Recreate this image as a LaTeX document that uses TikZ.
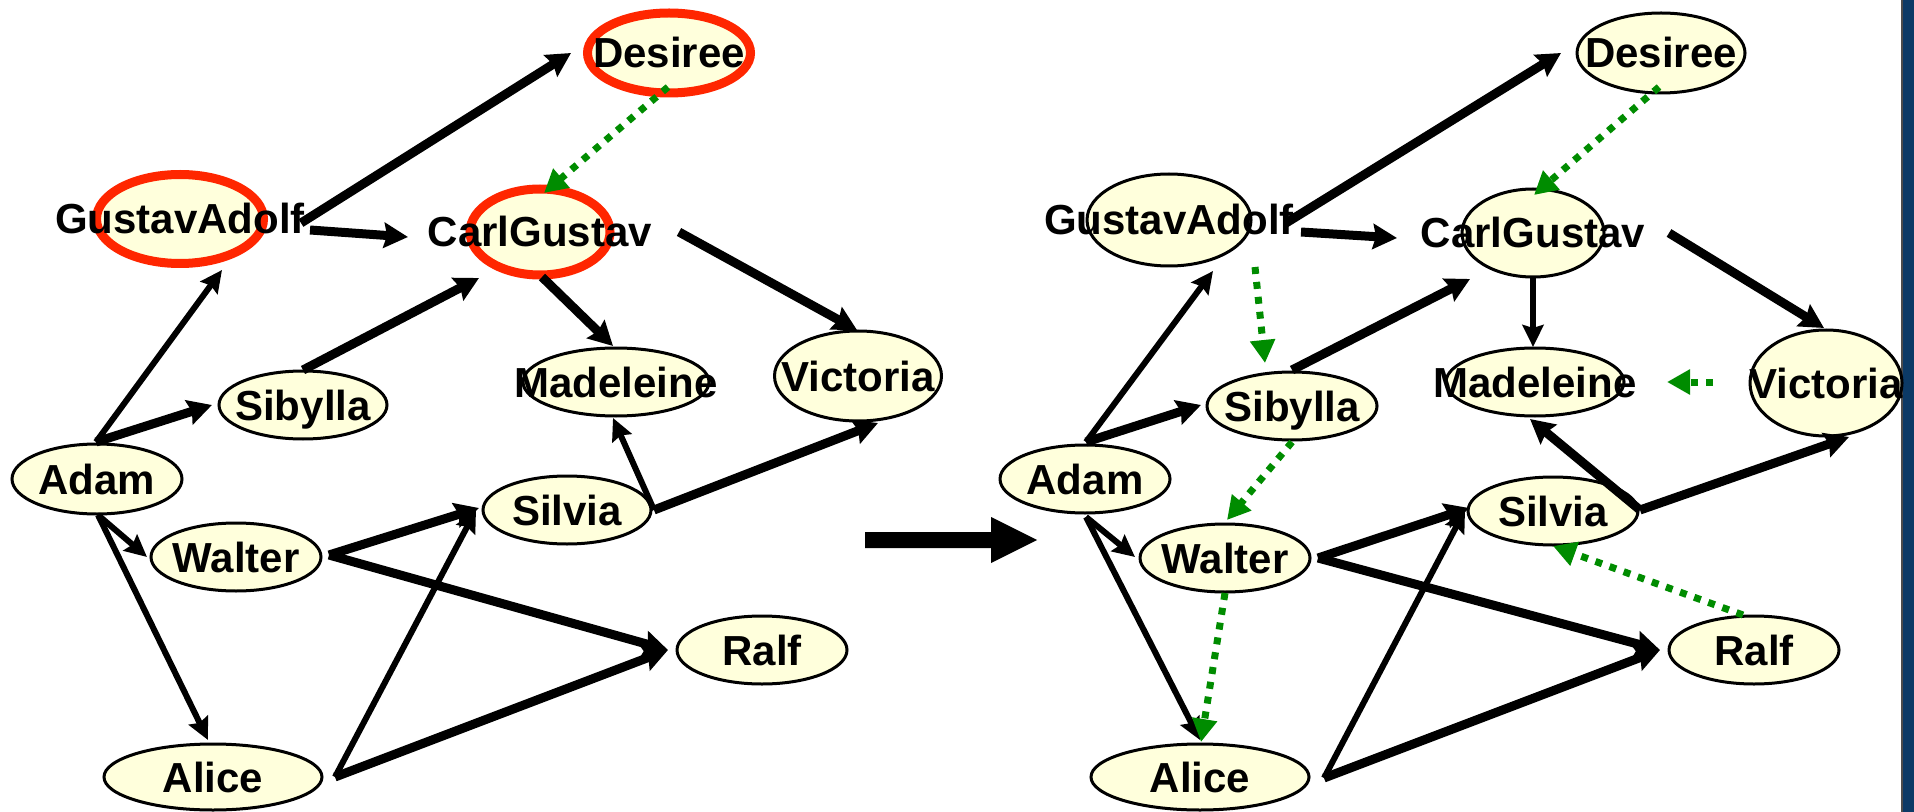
\documentclass[tikz,border=0pt]{standalone}
\usepackage{fontspec}
\setmainfont{Liberation Sans}
\usetikzlibrary{arrows.meta,shapes.geometric,calc}
\definecolor{nodefill}{RGB}{255,255,220}
\definecolor{hired}{RGB}{255,38,0}
\definecolor{dotgreen}{RGB}{0,140,0}
\definecolor{barblue}{RGB}{12,58,102}
\begin{document}
\begin{tikzpicture}[x=0.5pt,y=-0.5pt,
  nd/.style={ellipse, draw=black, line width=1.5pt, fill=nodefill, inner sep=0pt,
    text height=15pt, text depth=0pt, font=\fontsize{21pt}{25pt}\selectfont\bfseries},
  hl/.style={draw=hired, line width=4.5pt},
  sz/.style 2 args={minimum width=#1, minimum height=#2},
  edge/.style={line width=4.5pt, -{Stealth[length=12pt,width=12.5pt,inset=1.5pt]}},
  edgethin/.style={line width=3pt, -{Stealth[length=11pt,width=10.5pt,inset=1.5pt]}},
  gdot/.style={dotgreen, line width=3.5pt, dash pattern=on 3.5pt off 4pt,
    -{Triangle[length=11.5pt,width=12pt]}},
]
\useasboundingbox (0,0) rectangle (1914,812);
\fill[white] (0,0) rectangle (1914,812);
\fill[barblue] (1902,0) rectangle (1914,812);
\draw[gray!60!black, line width=0.6pt] (1902,0) -- (1902,812);

% ---------- left graph ----------
\node[nd, hl, sz={81.5pt}{40pt}] (des) at (669,53) {\makebox[0pt]{Desiree}};
\node[nd, hl, sz={83.5pt}{44.5pt}] (ga) at (180,219) {\makebox[0pt]{GustavAdolf}};
\node[nd, hl, sz={70pt}{43pt}] (cg) at (540,232) {\makebox[0pt]{CarlGustav}};
\node[nd, sz={93pt}{34pt}] (mad) at (616,382) {\makebox[0pt]{Madeleine}};
\node[nd, sz={83.5pt}{45pt}] (vic) at (858,376) {\makebox[0pt]{Victoria}};
\node[nd, sz={84pt}{34pt}] (sib) at (303,405) {\makebox[0pt]{Sibylla}};
\node[nd, sz={85pt}{35pt}] (adam) at (97,479) {\makebox[0pt]{Adam}};
\node[nd, sz={85pt}{34pt}] (wal) at (236,557) {\makebox[0pt]{Walter}};
\node[nd, sz={84pt}{34pt}] (sil) at (567,510) {\makebox[0pt]{Silvia}};
\node[nd, sz={85pt}{34pt}] (ralf) at (762,650) {\makebox[0pt]{Ralf}};
\node[nd, sz={109pt}{33pt}] (alice) at (213,777) {\makebox[0pt]{Alice}};

\draw[edge] ($(ga)+(121,4)$) -- ($(des)+(-98,0)$);
\draw[edge] ($(ga)+(130,11)$) -- ($(cg)+(-132,5)$);
\draw[edge] ($(cg)+(139,0)$) -- ($(vic)+(-1,-46)$);
\draw[edge] ($(cg)+(2,45)$) -- ($(mad)+(-3,-36)$);
\draw[edge] ($(sib)+(0,-35)$) -- ($(cg)+(-61,46)$);
\draw[edgethin] ($(adam)+(-1,-37)$) -- ($(ga)+(42,51)$);
\draw[edge] ($(adam)+(-1,-37)$) -- ($(sib)+(-91,0)$);
\draw[edgethin] ($(adam)+(1,36)$) -- ($(wal)+(-89,0)$);
\draw[edgethin] ($(adam)+(1,36)$) -- ($(alice)+(-5,-37)$);
\draw[edge] ($(wal)+(93,-2)$) -- ($(sil)+(-88,-2)$);
\draw[edge] ($(wal)+(93,-2)$) -- ($(ralf)+(-94,0)$);
\draw[edgethin] ($(alice)+(122,0)$) -- ($(sil)+(-91,0)$);
\draw[edge] ($(alice)+(122,0)$) -- ($(ralf)+(-94,0)$);
\draw[edgethin] ($(sil)+(87,0)$) -- ($(mad)+(-3,36)$);
\draw[edge] ($(sil)+(87,0)$) -- ($(vic)+(20,47)$);
\draw[gdot] ($(des)+(-1,34)$) -- ($(cg)+(4,-39)$);

% ---------- transformation arrow ----------
\fill[black] (865,532) -- (991,532) -- (991,517) -- (1037,540) -- (991,563) -- (991,548) -- (865,548) -- cycle;

% ---------- right graph ----------
\node[nd, sz={84pt}{40pt}] (des2) at (1661,53) {\makebox[0pt]{Desiree}};
\node[nd, sz={82pt}{46pt}] (ga2) at (1169,220) {\makebox[0pt]{GustavAdolf}};
\node[nd, sz={71pt}{44pt}] (cg2) at (1533,233) {\makebox[0pt]{CarlGustav}};
\node[nd, sz={89pt}{34pt}] (mad2) at (1535,382) {\makebox[0pt]{Madeleine}};
\node[nd, sz={76pt}{53pt}] (vic2) at (1826,383) {\makebox[0pt]{Victoria}};
\node[nd, sz={85pt}{34pt}] (sib2) at (1292,406) {\makebox[0pt]{Sibylla}};
\node[nd, sz={85pt}{34pt}] (adam2) at (1085,479) {\makebox[0pt]{Adam}};
\node[nd, sz={85pt}{34pt}] (wal2) at (1225,558) {\makebox[0pt]{Walter}};
\node[nd, sz={85pt}{34pt}] (sil2) at (1553,511) {\makebox[0pt]{Silvia}};
\node[nd, sz={85pt}{34pt}] (ralf2) at (1754,650) {\makebox[0pt]{Ralf}};
\node[nd, sz={109pt}{33pt}] (alice2) at (1200,777) {\makebox[0pt]{Alice}};

\draw[edge] ($(ga2)+(117,3)$) -- ($(des2)+(-100,0)$);
\draw[edge] ($(ga2)+(132,12)$) -- ($(cg2)+(-136,5)$);
\draw[edge] ($(cg2)+(136,0)$) -- ($(vic2)+(-2,-55)$);
\draw[edgethin] ($(cg2)+(0,45)$) -- ($(mad2)+(-2,-35)$);
\draw[edge] ($(sib2)+(0,-36)$) -- ($(cg2)+(-63,46)$);
\draw[edgethin] ($(adam2)+(1,-37)$) -- ($(ga2)+(44,51)$);
\draw[edge] ($(adam2)+(1,-37)$) -- ($(sib2)+(-91,-1)$);
\draw[edgethin] ($(adam2)+(1,38)$) -- ($(wal2)+(-90,-1)$);
\draw[edgethin] ($(adam2)+(1,38)$) -- ($(alice2)+(0,-37)$);
\draw[edge] ($(wal2)+(93,0)$) -- ($(sil2)+(-84,-3)$);
\draw[edge] ($(wal2)+(93,0)$) -- ($(ralf2)+(-94,0)$);
\draw[edgethin] ($(alice2)+(124,1)$) -- ($(sil2)+(-88,-1)$);
\draw[edge] ($(alice2)+(124,1)$) -- ($(ralf2)+(-94,0)$);
\draw[edge] ($(sil2)+(87,-1)$) -- ($(mad2)+(-5,37)$);
\draw[edge] ($(sil2)+(87,-1)$) -- ($(vic2)+(23,54)$);
\draw[gdot] ($(des2)+(-2,34)$) -- ($(cg2)+(1,-38)$);
\draw[gdot] ($(ga2)+(86,47)$) -- ($(sib2)+(-27,-43)$);
\draw[gdot] ($(vic2)+(-113,-1)$) -- ($(mad2)+(132,0)$);
\draw[gdot] ($(sib2)+(0,36)$) -- ($(wal2)+(2,-38)$);
\draw[gdot] ($(wal2)+(0,35)$) -- ($(alice2)+(1,-35)$);
\draw[gdot] ($(ralf2)+(-11,-35)$) -- ($(sil2)+(0,35)$);
\end{tikzpicture}
\end{document}
